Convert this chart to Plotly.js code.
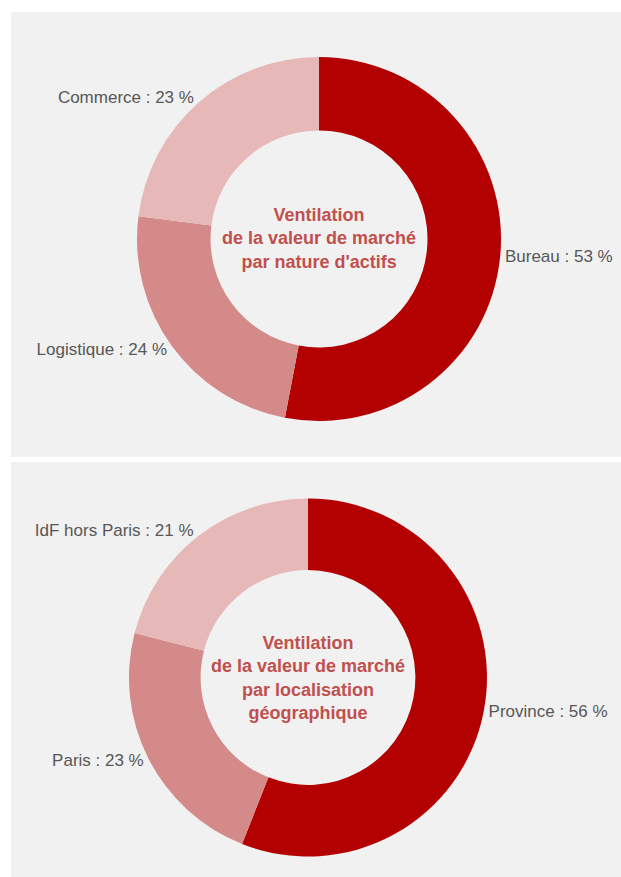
<!DOCTYPE html>
<html>
<head>
<meta charset="utf-8">
<script src="https://cdn.plot.ly/plotly-3.0.1.min.js"></script>
<style>
  html, body { margin: 0; padding: 0; background: #ffffff; width: 621px; height: 877px; overflow: hidden; }
  #c1 { position: absolute; left: 11px; top: 12px; width: 610px; height: 445px; }
  #c2 { position: absolute; left: 11px; top: 462px; width: 610px; height: 415px; }
</style>
</head>
<body>
<div id="c1"></div>
<div id="c2"></div>
<script>
// Chart 1: by asset type
var typeLabels = ["Bureau", "Logistique", "Commerce"];
var typeValues = [53, 24, 23];
var typeTitle = ["Ventilation", "de la valeur de marché", "par nature d'actifs"];

// Chart 2: by geographic location
var geoLabels = ["Province", "Paris", "IdF hors Paris"];
var geoValues = [56, 23, 21];
var geoTitle = ["Ventilation", "de la valeur de marché", "par localisation", "géographique"];

var sliceColors = ["#b30000", "#d48a89", "#e6b8b7"];
var FONT = 'Arial, "Liberation Sans", sans-serif';

function donut(div, labels, values, titleLines, domX, domY, hole) {
  var trace = {
    type: "pie",
    labels: labels,
    values: values,
    sort: false,
    direction: "clockwise",
    rotation: 0,
    hole: hole,
    domain: { x: domX, y: domY },
    marker: { colors: sliceColors, line: { width: 0 } },
    textposition: "outside",
    texttemplate: "%{label} : %{value} %",
    outsidetextfont: { family: FONT, size: 17, color: "#575757" },
    hoverinfo: "none",
    showlegend: false
  };
  var layout = {
    margin: { l: 0, r: 0, t: 0, b: 0 },
    paper_bgcolor: "#f1f1f1",
    plot_bgcolor: "#f1f1f1",
    showlegend: false,
    annotations: [{
      xref: "paper", yref: "paper",
      x: (domX[0] + domX[1]) / 2,
      y: (domY[0] + domY[1]) / 2,
      xanchor: "center", yanchor: "middle",
      text: "<b>" + titleLines.join("<br>") + "</b>",
      showarrow: false,
      align: "center",
      font: { family: FONT, size: 18, color: "#c0504d" }
    }]
  };
  Plotly.newPlot(div, [trace], layout, { staticPlot: true, displayModeBar: false });
}

donut("c1", typeLabels, typeValues, typeTitle, [0.2066, 0.8033], [0.0809, 0.8989], 0.596);
donut("c2", geoLabels, geoValues, geoTitle, [0.1934, 0.7803], [0.0494, 0.9120], 0.6);
</script>
</body>
</html>
